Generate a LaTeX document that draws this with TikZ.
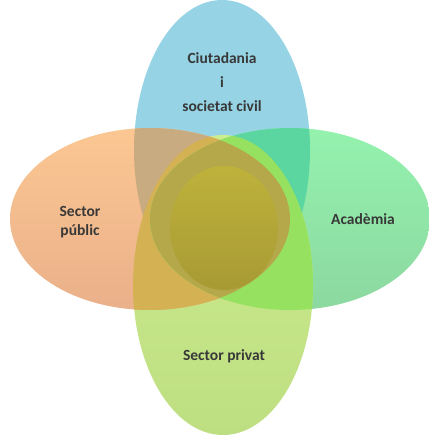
\documentclass[tikz,border=0pt]{standalone}
\usepackage{fontspec}
\setmainfont{Carlito}
\usepackage{xcolor}
\usepackage{tikz}
\usetikzlibrary{shapes,positioning}
\definecolor{civilblue}{RGB}{150,212,229}
\definecolor{publictop}{RGB}{251,199,146}
\definecolor{publicbot}{RGB}{234,176,138}
\definecolor{acadtop}{RGB}{148,242,174}
\definecolor{acadbot}{RGB}{140,216,160}
\definecolor{privtop}{RGB}{205,238,142}
\definecolor{privbot}{RGB}{190,222,130}
\definecolor{mixtl}{RGB}{201,171,129}
\definecolor{mixtr}{RGB}{92,214,160}
\definecolor{mixbl}{RGB}{212,178,84}
\definecolor{mixbr}{RGB}{150,226,96}
\definecolor{mixall}{RGB}{180,168,74}
\definecolor{coretop}{RGB}{190,178,60}
\definecolor{corebot}{RGB}{168,154,52}
\definecolor{labelgray}{RGB}{56,56,56}
% petal outlines
\newcommand{\civilshape}{(222,150) ellipse [x radius=88, y radius=150]}
\newcommand{\acadshape}{(290,219) ellipse [x radius=140, y radius=91]}
\newcommand{\privshape}{(223,285) ellipse [x radius=90, y radius=150]}
\newcommand{\pubshape}{(150,219) ellipse [x radius=140, y radius=91]}
\tikzstyle{tag} = [text=labelgray, align=center, font=\bfseries\fontsize{15.5}{24}\selectfont]

\begin{document}
\begin{tikzpicture}[x=1pt, y=-1pt]
    \useasboundingbox (0,0) rectangle (428,435);
    % Draw petals
    \fill [civilblue] \civilshape;
    \shade [top color=acadtop, bottom color=acadbot] \acadshape;
    \shade [top color=privtop, bottom color=privbot] \privshape;
    \shade [top color=publictop, bottom color=publicbot] \pubshape;
    % Draw overlaps
    \begin{scope} \clip \civilshape; \fill [mixtl] \pubshape; \end{scope}
    \begin{scope} \clip \civilshape; \fill [mixtr] \acadshape; \end{scope}
    \begin{scope} \clip \privshape; \fill [mixbl] \pubshape; \end{scope}
    \begin{scope} \clip \privshape; \fill [mixbr] \acadshape; \end{scope}
    \begin{scope}
        \clip \civilshape; \clip \acadshape; \clip \privshape;
        \fill [mixall] \pubshape;
    \end{scope}
    \shade [top color=coretop, bottom color=corebot] (224,228) ellipse [x radius=54, y radius=62];
    % Place labels
    \node [tag] (civiltag) at (222,82) {Ciutadania\\i\\societat civil};
    \node [tag, font=\bfseries\fontsize{15.5}{19}\selectfont] (pubtag) at (80,222) {Sector\\públic};
    \node [tag] (acadtag) at (363,219) {Acadèmia};
    \node [tag] (privtag) at (224,356) {Sector privat};
\end{tikzpicture}
\end{document}
